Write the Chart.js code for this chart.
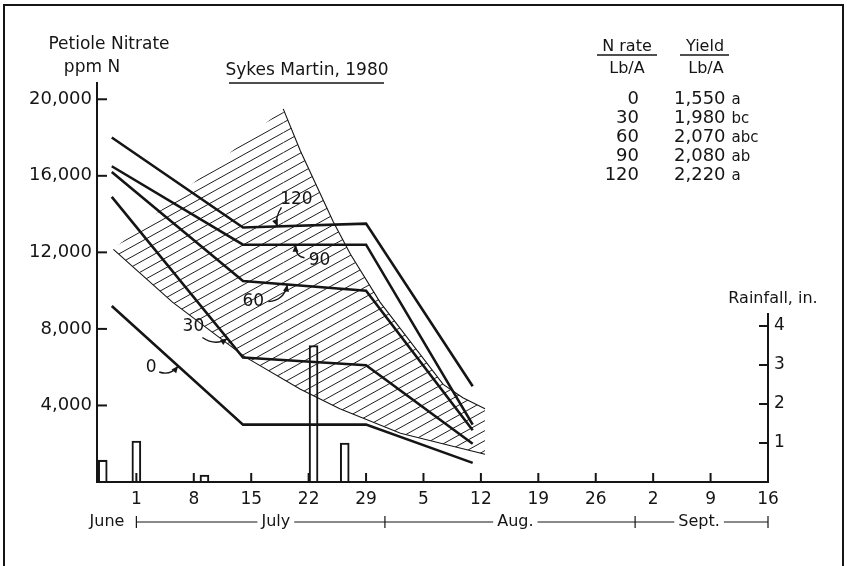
<!DOCTYPE html>
<html>
<head>
<meta charset="utf-8">
<script src="https://cdn.jsdelivr.net/npm/chart.js@4.4.1/dist/chart.umd.min.js"></script>
<style>
  html, body { margin: 0; padding: 0; background: #fff; }
  #wrap { width: 847px; height: 566px; }
</style>
</head>
<body>
<div id="wrap"><canvas id="c" width="847" height="566"></canvas></div>
<script>
// Sampling dates, as days after July 1, 1980
const sampleDays = [-3, 13, 28, 41];
// Petiole nitrate, ppm N, for each N rate (lb/A)
const nitrate0   = [9200, 3000, 3000, 1000];
const nitrate30  = [14900, 6500, 6100, 2000];
const nitrate60  = [16200, 10500, 10000, 2700];
const nitrate90  = [16500, 12400, 12400, 3000];
const nitrate120 = [18000, 13300, 13500, 5000];

// Yield table
const nRates = ['0', '30', '60', '90', '120'];
const yields = ['1,550', '1,980', '2,070', '2,080', '2,220'];
const yieldGroups = ['a', 'bc', 'abc', 'ab', 'a'];

// Hatched band: upper and lower edges (days after July 1, ppm N)
const bandUpperDays = [-2.8, 17.9, 20.0, 24.0, 26.1, 29.7, 37.4, 39.8, 42.5];
const bandUpperPpm  = [12160, 19500, 17300, 13600, 11900, 9400, 5100, 4400, 3830];
const bandLowerDays = [-2.8, 4.4, 13.2, 20.0, 24.8, 32.2, 42.5];
const bandLowerPpm  = [12160, 9400, 6550, 4850, 3830, 2550, 1450];

// Rainfall events (days after July 1, inches)
const rainDays   = [-4.1, 0, 8.3, 21.6, 25.4];
const rainInches = [0.56, 1.05, 0.18, 3.5, 1.0];

// Axis ticks
const weekDays   = [0, 7, 14, 21, 28, 35, 42, 49, 56, 63, 70, 77];
const weekLabels = ['1', '8', '15', '22', '29', '5', '12', '19', '26', '2', '9', '16'];
const ppmTicks   = [4000, 8000, 12000, 16000, 20000];
const rainTicks  = [1, 2, 3, 4];
const monthNames = ['June', 'July', 'Aug.', 'Sept.'];
const monthMarks = [0, 30.3, 60.8, 77];   // month dividers on the date bar

const ink = '#151515';
const FONT = "'DejaVu Sans', sans-serif";

const toPoints = (xs, ys) => xs.map((d, i) => ({ x: d, y: ys[i] }));
const seriesValues = [nitrate0, nitrate30, nitrate60, nitrate90, nitrate120];

// Diagonal hatch pattern for the band
function hatchPattern() {
  const tile = document.createElement('canvas');
  tile.width = 36; tile.height = 20;
  const t = tile.getContext('2d');
  t.strokeStyle = '#1e1e1e';
  t.lineWidth = 1;
  for (let c = -20; c <= 40; c += 10) {
    t.beginPath();
    t.moveTo(0, c);
    t.lineTo(36, c - 20);
    t.stroke();
  }
  return t.createPattern(tile, 'repeat');
}

function valueAt(days, vals, d) {
  for (let i = 0; i < days.length - 1; i++) {
    if (d >= days[i] && d <= days[i + 1]) {
      const f = (d - days[i]) / (days[i + 1] - days[i]);
      return vals[i] + f * (vals[i + 1] - vals[i]);
    }
  }
  return vals[vals.length - 1];
}

// Curve labels with hand-drawn style arrows pointing at each line
const curveNotes = [
  { s: 4, day: 17.2, tx: 19,  ty: -27, sx: 4,   sy: -19, cx: -3,  cy: -8 },
  { s: 3, day: 19.4, tx: 24,  ty: 16,  sx: 9,   sy: 13,  cx: 0,   cy: 12 },
  { s: 2, day: 18.4, tx: -34, ty: 17,  sx: -19, sy: 17,  cx: -3,  cy: 16 },
  { s: 1, day: 11.1, tx: -34, ty: -12, sx: -25, sy: -1,  cx: -12, cy: 8 },
  { s: 0, day: 5.1,  tx: -27, ty: 2,   sx: -19, sy: 6,   cx: -8,  cy: 10 }
];

function line(ctx, x1, y1, x2, y2) {
  ctx.beginPath(); ctx.moveTo(x1, y1); ctx.lineTo(x2, y2); ctx.stroke();
}

const decor = {
  id: 'decor',
  beforeDraw(chart) {
    const ctx = chart.ctx;
    ctx.save();
    ctx.fillStyle = '#fff';
    ctx.fillRect(0, 0, chart.width, chart.height);
    ctx.restore();
  },
  afterDraw(chart) {
    const { ctx } = chart;
    const { x, y, rain } = chart.scales;
    ctx.save();
    ctx.strokeStyle = ink;
    ctx.fillStyle = ink;
    ctx.lineCap = 'butt';

    // outer frame
    ctx.lineWidth = 2;
    ctx.beginPath();
    ctx.moveTo(4, chart.height); ctx.lineTo(4, 5); ctx.lineTo(843, 5); ctx.lineTo(843, chart.height);
    ctx.stroke();

    // inward tick marks
    const bottom = y.bottom, left = x.left, right = x.right;
    weekDays.slice(0, -1).forEach(d => {
      const px = x.getPixelForValue(d);
      line(ctx, px, bottom, px, bottom - 9);
    });
    ppmTicks.forEach(v => {
      const py = y.getPixelForValue(v);
      line(ctx, left, py, left + 10, py);
    });

    // rainfall axis (short, on the right)
    line(ctx, right, rain.getPixelForValue(0) + 1, right, rain.getPixelForValue(4.33));
    rainTicks.forEach(v => {
      const py = rain.getPixelForValue(v);
      line(ctx, right - 9, py, right, py);
    });

    // curve labels and arrows
    ctx.font = '17px ' + FONT;
    ctx.textAlign = 'center';
    ctx.textBaseline = 'middle';
    curveNotes.forEach(n => {
      const tipX = x.getPixelForValue(n.day);
      const tipY = y.getPixelForValue(valueAt(sampleDays, seriesValues[n.s], n.day));
      ctx.fillText(nRates[n.s], tipX + n.tx, tipY + n.ty);
      const cx = tipX + n.cx, cy = tipY + n.cy;
      ctx.lineWidth = 1.4;
      ctx.beginPath();
      ctx.moveTo(tipX + n.sx, tipY + n.sy);
      ctx.quadraticCurveTo(cx, cy, tipX, tipY);
      ctx.stroke();
      const ang = Math.atan2(tipY - cy, tipX - cx);
      const L = 7, W = 3;
      ctx.beginPath();
      ctx.moveTo(tipX, tipY);
      ctx.lineTo(tipX - L * Math.cos(ang) + W * Math.sin(ang), tipY - L * Math.sin(ang) - W * Math.cos(ang));
      ctx.lineTo(tipX - L * Math.cos(ang) - W * Math.sin(ang), tipY - L * Math.sin(ang) + W * Math.cos(ang));
      ctx.closePath();
      ctx.fill();
    });

    // left axis title
    ctx.font = '17px ' + FONT;
    ctx.fillText('Petiole Nitrate', 109, 45);
    ctx.fillText('ppm N', 92, 68);

    // chart title
    ctx.font = '17px ' + FONT;
    ctx.textBaseline = 'alphabetic';
    ctx.fillText('Sykes Martin, 1980', 307, 75);
    ctx.lineWidth = 1.5;
    line(ctx, 229, 83, 384, 83);

    // yield table
    ctx.font = '16px ' + FONT;
    ctx.fillText('N rate', 627, 51);
    ctx.fillText('Yield', 705, 51);
    line(ctx, 597, 55, 657, 55);
    line(ctx, 680, 55, 729, 55);
    ctx.fillText('Lb/A', 627, 73);
    ctx.fillText('Lb/A', 706, 73);
    nRates.forEach((r, i) => {
      const by = 104 + i * 19;
      ctx.font = '18px ' + FONT;
      ctx.textAlign = 'right';
      ctx.fillText(r, 639, by);
      ctx.textAlign = 'left';
      ctx.fillText(yields[i], 674, by);
      const w = ctx.measureText(yields[i]).width;
      ctx.font = '15px ' + FONT;
      ctx.fillText(yieldGroups[i], 674 + w + 6, by);
    });

    // rainfall axis title
    ctx.font = '16px ' + FONT;
    ctx.textAlign = 'center';
    ctx.textBaseline = 'middle';
    ctx.fillText('Rainfall, in.', 773, 299);

    // month bar under the date labels
    const my = 522;
    ctx.font = '16px ' + FONT;
    ctx.lineWidth = 1.2;
    const px = monthMarks.map(d => x.getPixelForValue(d));
    ctx.textAlign = 'right';
    ctx.fillText(monthNames[0], px[0] - 12, my);
    ctx.textAlign = 'center';
    const labelCenters = [x.getPixelForValue(17), x.getPixelForValue(46.2), x.getPixelForValue(68.6)];
    for (let i = 0; i < 3; i++) {
      const name = monthNames[i + 1];
      const w = ctx.measureText(name).width;
      const c = labelCenters[i];
      ctx.fillText(name, c, my);
      line(ctx, px[i], my, c - w / 2 - 4, my);
      line(ctx, c + w / 2 + 4, my, px[i + 1], my);
    }
    px.forEach(p => line(ctx, p, my - 6, p, my + 6));

    ctx.restore();
  }
};

const ctx = document.getElementById('c').getContext('2d');
const pattern = hatchPattern();

const seriesStyle = {
  type: 'line',
  borderColor: ink,
  borderWidth: 2.6,
  pointRadius: 0,
  tension: 0,
  fill: false,
  borderJoinStyle: 'miter',
  order: 0
};

new Chart(ctx, {
  type: 'line',
  data: {
    datasets: [
      Object.assign({ label: '0', data: toPoints(sampleDays, nitrate0) }, seriesStyle),
      Object.assign({ label: '30', data: toPoints(sampleDays, nitrate30) }, seriesStyle),
      Object.assign({ label: '60', data: toPoints(sampleDays, nitrate60) }, seriesStyle),
      Object.assign({ label: '90', data: toPoints(sampleDays, nitrate90) }, seriesStyle),
      Object.assign({ label: '120', data: toPoints(sampleDays, nitrate120) }, seriesStyle),
      {
        type: 'line',
        label: 'band upper',
        data: toPoints(bandUpperDays, bandUpperPpm),
        borderColor: ink,
        borderWidth: 1.1,
        pointRadius: 0,
        tension: 0,
        fill: '+1',
        backgroundColor: pattern,
        segment: {
          borderColor: c => (c.p0DataIndex === 0 ? 'rgba(0,0,0,0)' : ink)
        },
        order: 1
      },
      {
        type: 'line',
        label: 'band lower',
        data: toPoints(bandLowerDays, bandLowerPpm),
        borderColor: ink,
        borderWidth: 1.1,
        pointRadius: 0,
        tension: 0,
        fill: false,
        order: 1
      },
      {
        type: 'bar',
        label: 'Rainfall',
        yAxisID: 'rain',
        data: toPoints(rainDays, rainInches),
        backgroundColor: 'rgba(0,0,0,0)',
        borderColor: ink,
        borderWidth: 1.4,
        barThickness: 9,
        order: 2
      }
    ]
  },
  options: {
    responsive: false,
    animation: false,
    devicePixelRatio: 1,
    layout: { padding: { top: 83, left: 0, right: 0, bottom: 0 } },
    plugins: { legend: { display: false }, tooltip: { enabled: false } },
    font: { family: FONT },
    scales: {
      x: {
        type: 'linear',
        position: 'bottom',
        min: -4.8,
        max: 77,
        offset: false,
        afterFit(s) { s.height = 84; },
        afterBuildTicks(s) { s.ticks = weekDays.map(v => ({ value: v })); },
        ticks: {
          callback: (v, i) => weekLabels[i],
          autoSkip: false,
          maxRotation: 0,
          padding: 7,
          color: ink,
          font: { family: FONT, size: 17 }
        },
        grid: { display: false, drawTicks: false },
        border: { display: true, color: ink, width: 2 }
      },
      y: {
        type: 'linear',
        position: 'left',
        min: 0,
        max: 20850,
        afterFit(s) { s.width = 97; },
        afterBuildTicks(s) { s.ticks = ppmTicks.map(v => ({ value: v })); },
        ticks: {
          callback: v => v.toLocaleString('en-US'),
          padding: 5,
          color: ink,
          font: { family: FONT, size: 18 }
        },
        grid: { display: false, drawTicks: false },
        border: { display: true, color: ink, width: 2 }
      },
      rain: {
        type: 'linear',
        position: 'right',
        min: 0,
        max: 10.23,
        afterFit(s) { s.width = 79; },
        afterBuildTicks(s) { s.ticks = rainTicks.map(v => ({ value: v })); },
        ticks: {
          callback: v => String(v),
          padding: 6,
          color: ink,
          font: { family: FONT, size: 17 }
        },
        grid: { display: false, drawTicks: false },
        border: { display: false }
      }
    }
  },
  plugins: [decor]
});
</script>
</body>
</html>
